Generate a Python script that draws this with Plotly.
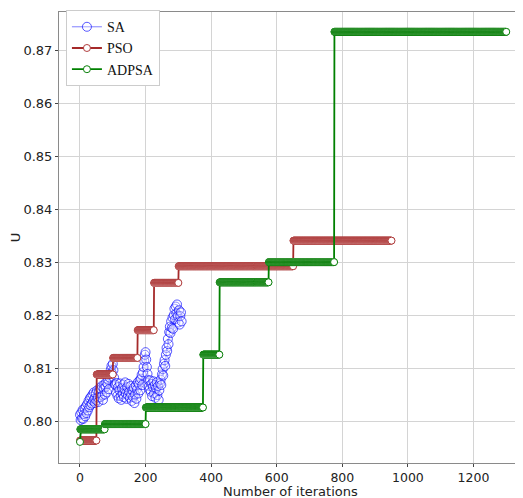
import plotly.graph_objects as go

# ---------------- data ----------------
SA_iters = list(range(0, 311, 2))
SA_values = [
    0.8012, 0.8002, 0.8016, 0.8005, 0.8021, 0.8004, 0.8013, 0.8024, 0.8009, 0.8028, 0.8015,
    0.8032, 0.8020, 0.8038, 0.8026, 0.8043, 0.8030, 0.8046, 0.8033, 0.8050, 0.8038, 0.8054, 0.8042,
    0.8034, 0.8052, 0.8039, 0.8058, 0.8044, 0.8036, 0.8056, 0.8062, 0.8045, 0.8060, 0.8066, 0.8048,
    0.8040, 0.8061, 0.8069, 0.8050, 0.8064, 0.8073, 0.8054, 0.8070, 0.8078, 0.8060,
    0.8082, 0.8090, 0.8097, 0.8104, 0.8090, 0.8108, 0.8096, 0.8082, 0.8070,
    0.8068, 0.8054, 0.8072, 0.8048, 0.8064, 0.8043, 0.8058, 0.8071, 0.8047, 0.8040, 0.8062, 0.8051,
    0.8069, 0.8045, 0.8060, 0.8073, 0.8052, 0.8042, 0.8064, 0.8049, 0.8070, 0.8055, 0.8044, 0.8066,
    0.8050, 0.8038, 0.8058,
    0.8045, 0.8063, 0.8034, 0.8050, 0.8067, 0.8042, 0.8060, 0.8073, 0.8052, 0.8069, 0.8077, 0.8058,
    0.8080, 0.8087, 0.8068, 0.8092, 0.8102,
    0.8114, 0.8125, 0.8130, 0.8116, 0.8102, 0.8089, 0.8077, 0.8066, 0.8060,
    0.8077, 0.8055, 0.8070, 0.8047, 0.8064, 0.8075, 0.8052, 0.8068, 0.8044, 0.8062, 0.8073, 0.8049,
    0.8066, 0.8040, 0.8058, 0.8071,
    0.8078, 0.8068, 0.8088, 0.8098, 0.8086, 0.8108, 0.8115, 0.8104, 0.8125, 0.8138, 0.8132, 0.8155,
    0.8145, 0.8168, 0.8178, 0.8166,
    0.8188, 0.8176, 0.8195, 0.8174, 0.8200, 0.8212, 0.8192, 0.8216, 0.8203, 0.8220, 0.8198, 0.8186,
    0.8209, 0.8182, 0.8198, 0.8205, 0.8188,
]

# best-so-far step functions: iteration where each level begins, and the level value
PSO_step_starts = [0, 51, 101, 176, 226, 301, 651]
PSO_levels = [0.79633, 0.80879, 0.81191, 0.81715, 0.82607, 0.82921, 0.83403]
PSO_last_iter = 950

ADPSA_step_starts = [0, 1, 76, 201, 376, 426, 576, 776]
ADPSA_levels = [0.79607, 0.79845, 0.79944, 0.80256, 0.81253, 0.82618, 0.82999, 0.87343]
ADPSA_last_iter = 1300

X_TICKS = [0, 200, 400, 600, 800, 1000, 1200]
Y_TICKS = [0.80, 0.81, 0.82, 0.83, 0.84, 0.85, 0.86, 0.87]


def expand(starts, levels, last):
    xs, ys = [], []
    for i, (s, v) in enumerate(zip(starts, levels)):
        e = starts[i + 1] - 1 if i + 1 < len(starts) else last
        for it in range(s, e + 1):
            xs.append(it)
            ys.append(v)
    return xs, ys


pso_x, pso_y = expand(PSO_step_starts, PSO_levels, PSO_last_iter)
ad_x, ad_y = expand(ADPSA_step_starts, ADPSA_levels, ADPSA_last_iter)

fig = go.Figure()
fig.add_trace(go.Scatter(
    x=SA_iters, y=SA_values, mode="lines+markers", name="SA",
    line=dict(color="rgba(0,0,255,0.5)", width=1),
    marker=dict(symbol="circle", size=9, color="rgba(255,255,255,0.3)",
                line=dict(color="rgba(0,0,255,0.65)", width=1)),
))
fig.add_trace(go.Scatter(
    x=pso_x, y=pso_y, mode="lines+markers", name="PSO",
    line=dict(color="#a52a2a", width=1.8),
    marker=dict(symbol="circle", size=7, color="white",
                line=dict(color="#b03c3c", width=1)),
))
fig.add_trace(go.Scatter(
    x=ad_x, y=ad_y, mode="lines+markers", name="ADPSA",
    line=dict(color="#008000", width=1.8),
    marker=dict(symbol="circle", size=7, color="white",
                line=dict(color="#0a800a", width=1)),
))

axis_common = dict(
    showgrid=True, gridcolor="#d4d4d4", gridwidth=1,
    showline=True, linecolor="#8a8a8a", linewidth=1, mirror=True,
    ticks="outside", ticklen=3, tickcolor="#444", tickwidth=1,
    tickfont=dict(family="DejaVu Sans", size=13, color="#222"),
    zeroline=False,
)

# the page body adds an 8px offset, so the figure is sized to fit the window
fig.update_layout(
    width=515, height=490,
    margin=dict(l=51, r=2, t=2, b=35),
    paper_bgcolor="white", plot_bgcolor="white",
    showlegend=True,
    legend=dict(
        x=0.015, y=1.004, xanchor="left", yanchor="top",
        bgcolor="white", bordercolor="#cccccc", borderwidth=1,
        font=dict(family="Liberation Serif", size=14, color="#111"),
        itemwidth=30, tracegroupgap=0,
    ),
    xaxis=dict(
        axis_common, range=[-64, 1345], tickvals=X_TICKS,
        ticktext=[str(v) for v in X_TICKS],
        tickfont=dict(family="DejaVu Sans", size=12.5, color="#222"),
        automargin=False,
    ),
    yaxis=dict(
        axis_common, range=[0.79209, 0.87717], tickvals=Y_TICKS,
        ticktext=[f"{v:.2f}" for v in Y_TICKS],
        title=dict(text="U", standoff=8,
                   font=dict(family="DejaVu Sans", size=13, color="#222")),
        automargin=False,
    ),
    annotations=[dict(
        text="Number of iterations", xref="paper", yref="paper",
        x=0.5, y=-0.0625, xanchor="center", yanchor="middle", showarrow=False,
        font=dict(family="DejaVu Sans", size=13, color="#222"),
    )],
)

fig.write_html("out.html")
